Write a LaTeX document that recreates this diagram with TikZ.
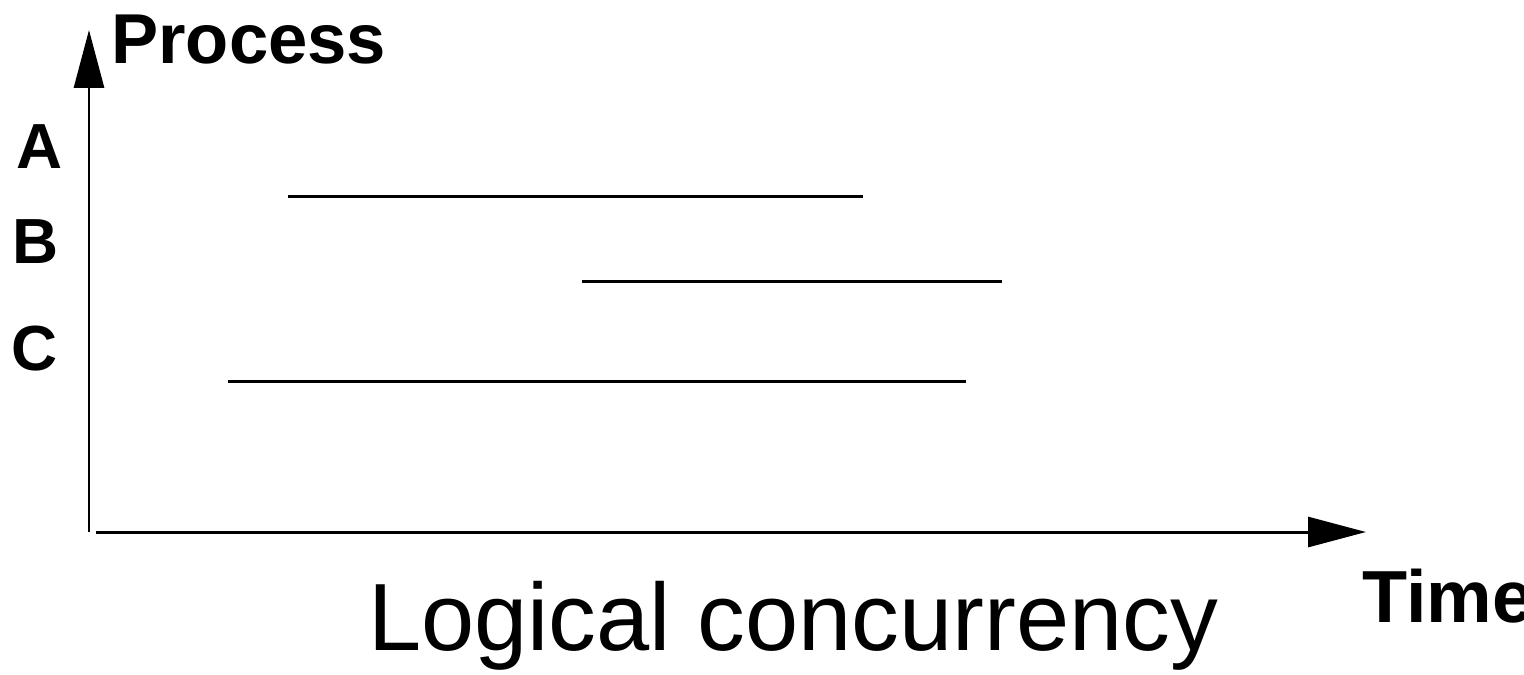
\documentclass[tikz,border=0pt]{standalone}
\usepackage{fontspec}
\setmainfont{Liberation Sans}
\usetikzlibrary{arrows.meta}

\tikzset{
  axis/.style={line width=1.7pt,-{Triangle[length=1.16cm,width=0.6cm]}},
  span/.style={line width=1.7pt},
  lbl/.style={inner sep=0pt,anchor=base,font=\bfseries\fontsize{36.3pt}{40pt}\selectfont}
}

\begin{document}
\begin{tikzpicture}[x=0.02cm,y=-0.02cm]
\useasboundingbox (0,0) rectangle (1524,674);

\coordinate (o) at (89,532);
\coordinate (ytop) at (89,30);
\coordinate (xstart) at (96,532);
\coordinate (xend) at (1366,532);

\draw[axis] (o) -- (ytop);
\draw[axis] (xstart) -- (xend);

\node[inner sep=0pt,anchor=base west,font=\bfseries\fontsize{40.2pt}{44pt}\selectfont] (process) at (111,63) {Process};
\node[inner sep=0pt,anchor=base west,font=\bfseries\fontsize{42pt}{46pt}\selectfont] (time) at (1362,622) {Time};
\node[inner sep=0pt,anchor=base west,font=\fontsize{54.4pt}{60pt}\selectfont] (title) at (368,650) {Logical concurrency};

\node[lbl] (a) at (40,168) {A};
\node[lbl] (b) at (36,263) {B};
\node[lbl] (c) at (35,370) {C};

\draw[span] (288,196) -- (863,196);
\draw[span] (582,281) -- (1002,281);
\draw[span] (228,381) -- (966,381);

\end{tikzpicture}
\end{document}
